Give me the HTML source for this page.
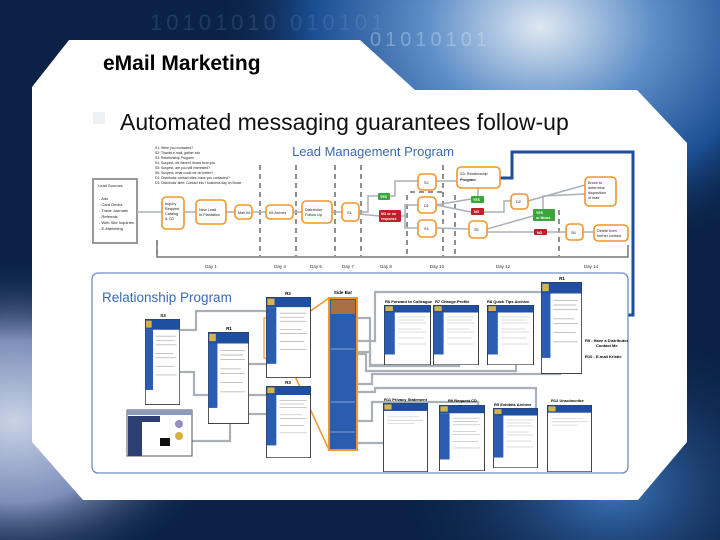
<!DOCTYPE html>
<html><head><meta charset="utf-8"><style>
html,body{margin:0;padding:0;width:720px;height:540px;overflow:hidden;background:#0b2246}
svg{display:block}
text{font-family:"Liberation Sans",Arial,sans-serif}
</style></head><body>
<svg width="720" height="540" viewBox="0 0 720 540" xmlns="http://www.w3.org/2000/svg">
<defs>
<radialGradient id="g1" cx="0.75" cy="0.05" r="0.45">
<stop offset="0" stop-color="#dfe8f2"/><stop offset="0.35" stop-color="#5f8fc8"/><stop offset="0.7" stop-color="#1b4f93"/><stop offset="1" stop-color="#0b2246" stop-opacity="0"/></radialGradient>
<radialGradient id="g2" cx="0.02" cy="0.78" r="0.3">
<stop offset="0" stop-color="#c9d3e6"/><stop offset="0.5" stop-color="#7d8fba"/><stop offset="1" stop-color="#0b2246" stop-opacity="0"/></radialGradient>
<radialGradient id="g3" cx="0.85" cy="0.9" r="0.3">
<stop offset="0" stop-color="#3e7ac4"/><stop offset="1" stop-color="#0b2246" stop-opacity="0"/></radialGradient>
<symbol id="doc" viewBox="0 0 100 200" preserveAspectRatio="none">
<rect x="1" y="1" width="98" height="198" fill="#fff" stroke="#333" stroke-width="2"/>
<rect x="1" y="1" width="98" height="24" fill="#1f4fa0"/>
<rect x="3" y="4" width="16" height="16" fill="#d6b44a"/>
<rect x="1" y="25" width="22" height="140" fill="#2a5db0"/>
<g stroke="#bbb" stroke-width="2"><line x1="30" y1="40" x2="90" y2="40"/><line x1="30" y1="50" x2="85" y2="50"/><line x1="30" y1="60" x2="90" y2="60"/><line x1="30" y1="80" x2="80" y2="80"/><line x1="30" y1="90" x2="90" y2="90"/><line x1="30" y1="110" x2="85" y2="110"/><line x1="30" y1="130" x2="90" y2="130"/></g>
</symbol>
<symbol id="doc2" viewBox="0 0 100 200" preserveAspectRatio="none">
<rect x="1" y="1" width="98" height="198" fill="#fff" stroke="#333" stroke-width="2"/>
<rect x="1" y="1" width="98" height="22" fill="#1f4fa0"/>
<rect x="3" y="4" width="16" height="15" fill="#d6b44a"/>
<g stroke="#ccc" stroke-width="2"><line x1="10" y1="40" x2="80" y2="40"/><line x1="10" y1="50" x2="90" y2="50"/><line x1="10" y1="60" x2="70" y2="60"/></g>
</symbol>
</defs>
<rect width="720" height="540" fill="#0b2246"/>
<rect width="720" height="540" fill="url(#g1)"/>
<rect width="720" height="540" fill="url(#g2)"/>
<rect width="720" height="540" fill="url(#g3)"/>
<text x="150" y="30" font-size="22" fill="#9fbde6" opacity="0.15" letter-spacing="4">10101010 010101</text>
<text x="370" y="46" font-size="20" fill="#dce8f7" opacity="0.35" letter-spacing="4">01010101</text>
<!-- white panel -->
<polygon points="69,40 360,40 415,90 637,90 687,143 687,442 638,500 83,500 32,442 32,87" fill="#fff"/>
<text x="103" y="70" font-size="21" font-weight="bold" fill="#000">eMail Marketing</text>
<rect x="93" y="112" width="12" height="12" fill="#eef1f4"/>
<text x="120" y="130" font-size="23" fill="#111">Automated messaging guarantees follow-up</text>
<!-- lead management -->
<text x="373" y="156" font-size="13" fill="#3a6bb0" text-anchor="middle">Lead Management Program</text>
<g font-size="3.4" fill="#222">
<text x="155" y="149">S1: Were you contacted?</text><text x="155" y="154">S2: Thanks e-mail, gather info</text><text x="155" y="159">S3: Relationship Program</text><text x="155" y="164">S4: Suspect, we haven't heard from you</text><text x="155" y="169">S5: Suspect, are you still interested?</text><text x="155" y="174">S6: Suspect, what could we do better?</text><text x="155" y="179">D1: Distributor contact sites: have you contacted?</text><text x="155" y="184">D2: Distributor alert: Contact info / business day on Bruce</text>
</g>
<rect x="93" y="179" width="44" height="64" fill="#fff" stroke="#999" stroke-width="2"/>
<g font-size="4" fill="#222"><text x="98" y="187">Lead Sources</text><text x="99" y="200">- Ads</text><text x="99" y="206">- Card Decks</text><text x="99" y="212">- Trade Journals</text><text x="99" y="218">- Referrals</text><text x="99" y="224">- Web Site Inquiries</text><text x="99" y="230">- E-Marketing</text></g>
<g stroke="#555" stroke-width="1.3" stroke-dasharray="5,4">
<line x1="157" y1="240" x2="157" y2="256"/><line x1="260" y1="165" x2="260" y2="256"/><line x1="296" y1="165" x2="296" y2="256"/><line x1="335" y1="165" x2="335" y2="256"/><line x1="361" y1="165" x2="361" y2="256"/><line x1="407" y1="195" x2="407" y2="256"/><line x1="443" y1="165" x2="443" y2="256"/><line x1="455" y1="195" x2="455" y2="256"/><line x1="559" y1="210" x2="559" y2="256"/><line x1="410" y1="192" x2="443" y2="192"/>
</g>
<polyline points="157,242 157,257 628,257 628,245" fill="none" stroke="#777" stroke-width="1.5"/>
<g font-size="4.5" fill="#333" text-anchor="middle"><text x="211" y="268">Day 1</text><text x="280" y="268">Day 4</text><text x="316" y="268">Day 5</text><text x="348" y="268">Day 7</text><text x="386" y="268">Day 8</text><text x="437" y="268">Day 10</text><text x="503" y="268">Day 12</text><text x="591" y="268">Day 14</text></g>
<g stroke="#aab0b8" stroke-width="1.5" fill="none">
<line x1="137" y1="212" x2="162" y2="212"/><line x1="184" y1="212" x2="196" y2="212"/><line x1="226" y1="212" x2="235" y2="212"/><line x1="252" y1="212" x2="266" y2="212"/><line x1="293" y1="212" x2="302" y2="212"/><line x1="332" y1="212" x2="342" y2="212"/>
<polyline points="359,212 368,212 368,196 378,196"/><polyline points="390,196 395,196 395,181 418,181"/>
<polyline points="359,214 379,216"/><polyline points="401,216 405,216 405,205 418,205"/><polyline points="405,216 405,228 418,228"/>
<line x1="436" y1="181" x2="457" y2="181"/><line x1="436" y1="205" x2="471" y2="199"/><line x1="436" y1="205" x2="471" y2="212"/><line x1="478" y1="196" x2="478" y2="188"/>
<polyline points="484,212 504,212 504,201 511,201"/><line x1="528" y1="201" x2="585" y2="185"/><polyline points="543,209 543,196 585,194"/>
<line x1="436" y1="228" x2="469" y2="229"/><line x1="487" y1="229" x2="533" y2="216"/><line x1="487" y1="232" x2="534" y2="232"/><line x1="547" y1="232" x2="566" y2="232"/><line x1="583" y1="232" x2="594" y2="232"/>
</g>
<polyline points="500,178 512,178 512,152 633,152 633,315 612,315" fill="none" stroke="#1e4e9a" stroke-width="3"/>
<polygon points="604,315 613,311 613,319" fill="#1e4e9a"/>
<g fill="#fff" stroke="#f0962a" stroke-width="1.6">
<rect x="162" y="197" width="22" height="32" rx="4"/><rect x="196" y="200" width="30" height="24" rx="4"/><rect x="235" y="205" width="17" height="14" rx="4"/><rect x="266" y="205" width="27" height="14" rx="4"/><rect x="302" y="201" width="30" height="22" rx="4"/><rect x="342" y="203" width="17" height="18" rx="4"/>
<rect x="418" y="174" width="18" height="16" rx="4"/><rect x="418" y="197" width="18" height="16" rx="4"/><rect x="418" y="220" width="18" height="17" rx="4"/>
<rect x="457" y="167" width="43" height="21" rx="4"/><rect x="511" y="194" width="17" height="15" rx="4"/><rect x="469" y="221" width="18" height="17" rx="4"/><rect x="566" y="224" width="17" height="16" rx="4"/><rect x="594" y="225" width="34" height="16" rx="4"/><rect x="585" y="177" width="31" height="29" rx="4"/>
</g>
<g font-size="3.8" fill="#222">
<text x="165" y="205">Inquiry</text><text x="165" y="210">Request</text><text x="165" y="215">Catalog</text><text x="165" y="220">&amp; CD</text>
<text x="199" y="211">New Lead</text><text x="199" y="216">to Plantation</text>
<text x="238" y="214">Mail Kit</text><text x="269" y="214">Kit Arrives</text>
<text x="305" y="211">Distributor</text><text x="305" y="216">Follow Up</text><text x="347" y="214">S1</text>
<text x="424" y="184">S2</text><text x="424" y="207">D1</text><text x="424" y="230">S4</text>
<text x="460" y="175">S3: Relationship</text><text x="460" y="181" font-weight="bold">Program</text>
<text x="516" y="203">D2</text><text x="474" y="231">S5</text><text x="571" y="234">S6</text>
<text x="597" y="232">Delete from</text><text x="597" y="237">further contact</text>
<text x="588" y="184">Bruce to</text><text x="588" y="189">determine</text><text x="588" y="194">disposition</text><text x="588" y="199">of lead</text>
</g>
<g font-size="3.5" fill="#fff" font-weight="bold">
<rect x="378" y="193" width="12" height="7" rx="1" fill="#3aa63a"/><text x="380" y="198">YES</text>
<rect x="379" y="210" width="22" height="12" rx="1" fill="#c41e2a"/><text x="381" y="215">NO or no</text><text x="381" y="220">response</text>
<rect x="471" y="196" width="13" height="7" rx="1" fill="#3aa63a"/><text x="473" y="201">YES</text>
<rect x="471" y="208" width="13" height="7" rx="1" fill="#c41e2a"/><text x="474" y="213">NO</text>
<rect x="533" y="209" width="22" height="12" rx="1" fill="#3aa63a"/><text x="536" y="214">YES</text><text x="536" y="219">or Bruce</text>
<rect x="534" y="229" width="13" height="6" rx="1" fill="#c41e2a"/><text x="537" y="234">NO</text>
</g>
<rect x="92" y="273" width="536" height="200" rx="6" fill="#fff" stroke="#6b8fbf" stroke-width="1.3"/>
<text x="102" y="302" font-size="13.5" fill="#3a6bb0">Relationship Program</text>
<g stroke="#aab0b8" stroke-width="2.2" fill="none">
<polyline points="180,330 196,330 196,311 266,311"/><line x1="249" y1="364" x2="266" y2="364"/><polyline points="180,372 194,372 194,395 266,395"/><line x1="249" y1="414" x2="266" y2="414"/><polyline points="192,441 230,441 230,424"/>
<polyline points="357,318 370,318 370,365 410,365 410,357"/><polyline points="357,341 375,341 375,292 541,292"/><polyline points="357,352 370,352 370,366 459,366 459,358"/><polyline points="357,354 366,354 366,371 516,371 516,358"/><polyline points="357,384 372,384 372,374 560,374 560,364"/><polyline points="357,392 375,392 375,388 536,388 536,414"/><polyline points="357,421 372,421 372,402 478,402 478,414"/><line x1="357" y1="443" x2="384" y2="443"/>
</g>
<g stroke="#f0962a" stroke-width="1.5"><line x1="276" y1="335" x2="329" y2="298"/><line x1="276" y1="335" x2="329" y2="450"/></g>
<rect x="264" y="318" width="10" height="40" fill="none" stroke="#f0962a" stroke-width="1.2"/>
<use href="#doc" x="145" y="319" width="35" height="86"/>
<use href="#doc" x="208" y="332" width="41" height="92"/>
<use href="#doc" x="266" y="297" width="45" height="81"/>
<use href="#doc" x="266" y="386" width="45" height="72"/>
<use href="#doc" x="384" y="305" width="47" height="60"/>
<use href="#doc" x="433" y="305" width="46" height="60"/>
<use href="#doc" x="487" y="305" width="47" height="60"/>
<use href="#doc" x="541" y="282" width="41" height="92"/>
<use href="#doc2" x="383" y="403" width="45" height="69"/>
<use href="#doc" x="439" y="405" width="46" height="66"/>
<use href="#doc" x="493" y="408" width="45" height="60"/>
<use href="#doc2" x="547" y="405" width="45" height="67"/>
<rect x="127" y="410" width="65" height="46" fill="#fff" stroke="#555" stroke-width="1"/>
<rect x="127" y="410" width="65" height="5" fill="#8a9ab8"/>
<rect x="128" y="416" width="14" height="40" fill="#2b3f72"/>
<rect x="142" y="416" width="18" height="6" fill="#2b3f72"/>
<circle cx="179" cy="424" r="4" fill="#9a8ac0"/><circle cx="179" cy="436" r="4" fill="#d8b040"/><rect x="160" y="438" width="10" height="8" fill="#111"/>
<rect x="329" y="298" width="28" height="152" fill="#2a5db0" stroke="#f0962a" stroke-width="2"/>
<rect x="331" y="300" width="24" height="14" fill="#a87040"/>
<g stroke="#9fbde6" stroke-width="0.8"><line x1="331" y1="349" x2="355" y2="349"/><line x1="331" y1="402" x2="355" y2="402"/><line x1="331" y1="432" x2="355" y2="432"/></g>
<g font-size="4.5" fill="#000" font-weight="bold" text-anchor="middle">
<text x="343" y="294">Side Bar</text><text x="163" y="317">S3</text><text x="229" y="330">R1</text><text x="288" y="295">R2</text><text x="288" y="384">R3</text><text x="562" y="280">R1</text>
</g>
<g font-size="4" fill="#000" font-weight="bold">
<text x="385" y="303">R6 Forward to Colleague</text><text x="435" y="303">R7 Change Profile</text><text x="487" y="303">R8 Quick Tips Archive</text>
<text x="384" y="401">R11 Privacy Statement</text><text x="448" y="402">R9 Request CD</text><text x="494" y="406">R5 Exhibits Archive</text><text x="551" y="402">R12 Unsubscribe</text>
<text x="585" y="342">R9 - Have a Distributor</text><text x="596" y="347">Contact Me</text><text x="585" y="358">R10 - E-mail Kristie</text>
</g>
</svg>
</body></html>
